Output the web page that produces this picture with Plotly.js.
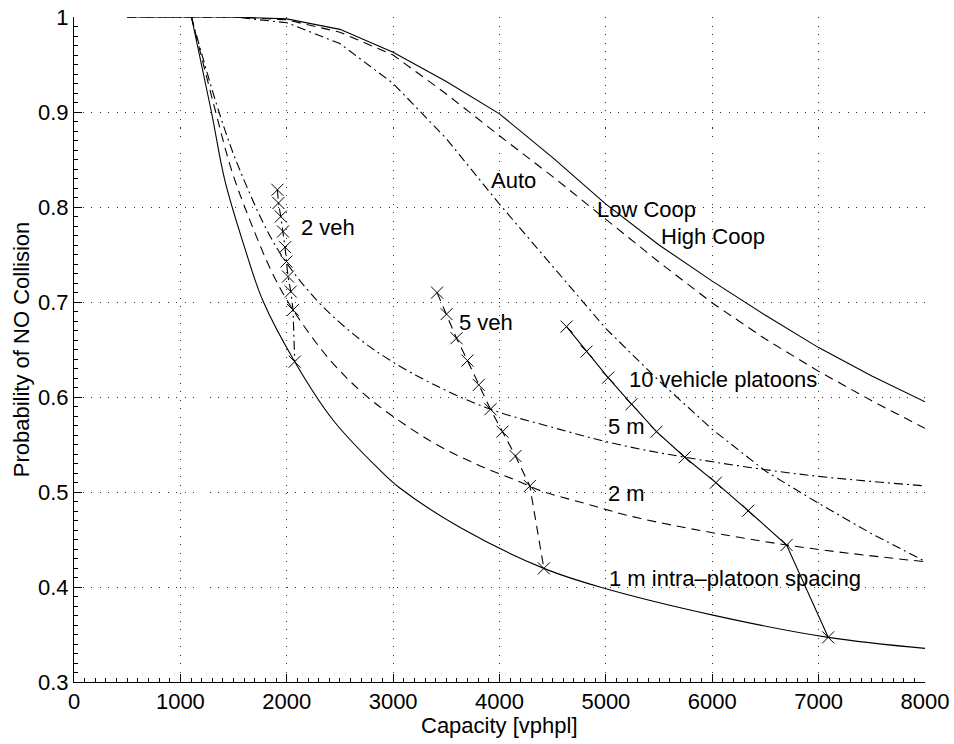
<!DOCTYPE html>
<html>
<head>
<meta charset="utf-8">
<script src="https://cdn.plot.ly/plotly-3.0.1.min.js"></script>
<style>html,body{margin:0;padding:0;background:#fff;}#chart{width:954px;height:744px;}</style>
</head>
<body>
<div id="chart"></div>
<script>
// Road-capacity scenarios (individual vehicles)
const coopX = [500, 1000, 1500, 2000, 2500, 3000, 3500, 4000, 4500, 5000, 5500, 6000, 6500, 7000, 7500, 8000];
const highCoopY = [1, 1, 1, 0.998, 0.987, 0.963, 0.932, 0.898, 0.852, 0.803, 0.760, 0.722, 0.686, 0.652, 0.622, 0.595];
const lowCoopY  = [1, 1, 1, 0.997, 0.984, 0.960, 0.919, 0.875, 0.832, 0.787, 0.742, 0.699, 0.661, 0.627, 0.596, 0.567];
const autoY     = [1, 1, 1, 0.994, 0.972, 0.930, 0.872, 0.803, 0.737, 0.672, 0.617, 0.566, 0.522, 0.488, 0.456, 0.427];

// Intra-platoon spacing curves
const sp1mX = [1104, 1292, 1417, 1605, 1777, 2075, 2435, 2874, 3063, 3643, 4417, 4943, 6006, 7090, 8000];
const sp1mY = [1, 0.9, 0.8286, 0.757, 0.701, 0.6372, 0.5758, 0.5232, 0.5042, 0.4618, 0.4196, 0.400, 0.3704, 0.347, 0.3354];
const sp2mX = [1104, 1332, 1480, 1652, 1871, 2059, 2404, 2717, 3047, 3408, 3799, 4183, 4395, 4802, 5319, 6699, 8000];
const sp2mY = [1, 0.9, 0.8392, 0.7865, 0.729, 0.6917, 0.6393, 0.604, 0.5758, 0.550, 0.5285, 0.511, 0.501, 0.488, 0.4723, 0.4442, 0.4266];
const sp5mX = [1104, 1363, 1558, 1906, 2279, 2655, 2968, 3392, 3915, 4473, 5068, 5742, 6887, 8000];
const sp5mY = [1, 0.9, 0.8392, 0.757, 0.7022, 0.6636, 0.6389, 0.6126, 0.5871, 0.5688, 0.5513, 0.5366, 0.5179, 0.5065];

// Platoon size curves (markers)
const veh2X = [1912, 1922, 1944, 1965, 1984, 1997, 2012, 2038, 2059, 2075];
const veh2Y = [0.8181, 0.8042, 0.790, 0.7742, 0.7577, 0.7426, 0.7268, 0.711, 0.6917, 0.6372];
const veh5X = [3413, 3502, 3596, 3699, 3805, 3915, 4028, 4150, 4285, 4417];
const veh5Y = [0.7099, 0.6872, 0.6619, 0.6383, 0.6127, 0.5871, 0.5635, 0.5379, 0.5063, 0.4196];
const veh10X = [4630, 4818, 5021, 5241, 5476, 5742, 6034, 6338, 6699, 7090];
const veh10Y = [0.6741, 0.6478, 0.6204, 0.5924, 0.5635, 0.5366, 0.5098, 0.4803, 0.4442, 0.347];

// Tick labels
const xTickVals = [0, 1000, 2000, 3000, 4000, 5000, 6000, 7000, 8000];
const xTickText = ['0', '1000', '2000', '3000', '4000', '5000', '6000', '7000', '8000'];
const yTickVals = [0.3, 0.4, 0.5, 0.6, 0.7, 0.8, 0.9, 1];
const yTickText = ['0.3', '0.4', '0.5', '0.6', '0.7', '0.8', '0.9', '1'];

// Curve labels
const labelText = ['Auto', 'Low Coop', 'High Coop', '2 veh', '5 veh', '10 vehicle platoons', '5 m', '2 m', '1 m intra\u2013platoon spacing'];
const labelX = [3909, 4905, 5507, 2122, 3608, 5212, 5009, 5009, 5021];
const labelY = [0.828, 0.797, 0.769, 0.778, 0.678, 0.618, 0.569, 0.4986, 0.4089];

const SOLID = 'solid';
const DASH = '9px,6px';
const DASHDOT = '9px,4px,2px,4px';

function line(x, y, dash, shape) {
  return {x: x, y: y, type: 'scatter', mode: 'lines',
    line: {color: 'black', width: 1.1, dash: dash, shape: shape || 'linear', smoothing: 1},
    hoverinfo: 'skip'};
}
function markLine(x, y, dash) {
  return {x: x, y: y, type: 'scatter', mode: 'lines+markers',
    line: {color: 'black', width: 1.1, dash: dash},
    marker: {symbol: 'x-thin', size: 12, color: 'black', line: {color: 'black', width: 1}},
    hoverinfo: 'skip'};
}

const traces = [
  line(coopX, highCoopY, SOLID, 'linear'),
  line(coopX, lowCoopY, DASH, 'linear'),
  line(coopX, autoY, DASHDOT, 'linear'),
  line(sp1mX, sp1mY, SOLID, 'spline'),
  line(sp2mX, sp2mY, DASH, 'spline'),
  line(sp5mX, sp5mY, DASHDOT, 'spline'),
  markLine(veh2X, veh2Y, DASHDOT),
  markLine(veh5X, veh5Y, DASH),
  markLine(veh10X, veh10Y, SOLID)
];

const annotations = labelText.map(function (t, i) {
  return {x: labelX[i], y: labelY[i], xref: 'x', yref: 'y', text: t, showarrow: false,
    xanchor: 'left', yanchor: 'middle', font: {size: 22, color: 'black'}, borderpad: 0};
});
annotations.push({x: 0.5, y: -0.0647, xref: 'paper', yref: 'paper', text: 'Capacity [vphpl]',
  showarrow: false, xanchor: 'center', yanchor: 'middle', font: {size: 22, color: 'black'}, borderpad: 0});

const layout = {
  width: 954, height: 744,
  margin: {l: 74, r: 29, t: 17, b: 62, pad: 0},
  paper_bgcolor: 'white', plot_bgcolor: 'white',
  showlegend: false,
  font: {family: 'Liberation Sans, Arial, Helvetica, sans-serif', size: 22, color: 'black'},
  xaxis: {
    range: [0, 8000], tickvals: xTickVals, ticktext: xTickText,
    ticks: 'inside', ticklen: 8, tickwidth: 1, tickcolor: 'black',
    showline: true, linecolor: 'black', linewidth: 1, mirror: false,
    showgrid: true, gridcolor: '#333', gridwidth: 1, griddash: '1px,7.5px',
    zeroline: false,
    minor: {dtick: 100, tick0: 0, ticks: 'inside', ticklen: 4, tickcolor: 'black', tickwidth: 1, showgrid: false},
    tickfont: {size: 22}
  },
  yaxis: {
    range: [0.3, 1], tickvals: yTickVals, ticktext: yTickText,
    ticks: 'inside', ticklen: 8, tickwidth: 1, tickcolor: 'black',
    showline: true, linecolor: 'black', linewidth: 1, mirror: false,
    showgrid: true, gridcolor: '#333', gridwidth: 1, griddash: '1px,7.5px',
    zeroline: false,
    minor: {dtick: 0.01, tick0: 0.3, ticks: 'inside', ticklen: 4, tickcolor: 'black', tickwidth: 1, showgrid: false},
    tickfont: {size: 22},
    title: {text: 'Probability of NO Collision', font: {size: 22}, standoff: 2}
  },
  annotations: annotations
};

Plotly.newPlot('chart', traces, layout, {staticPlot: true, displayModeBar: false});
</script>
</body>
</html>
